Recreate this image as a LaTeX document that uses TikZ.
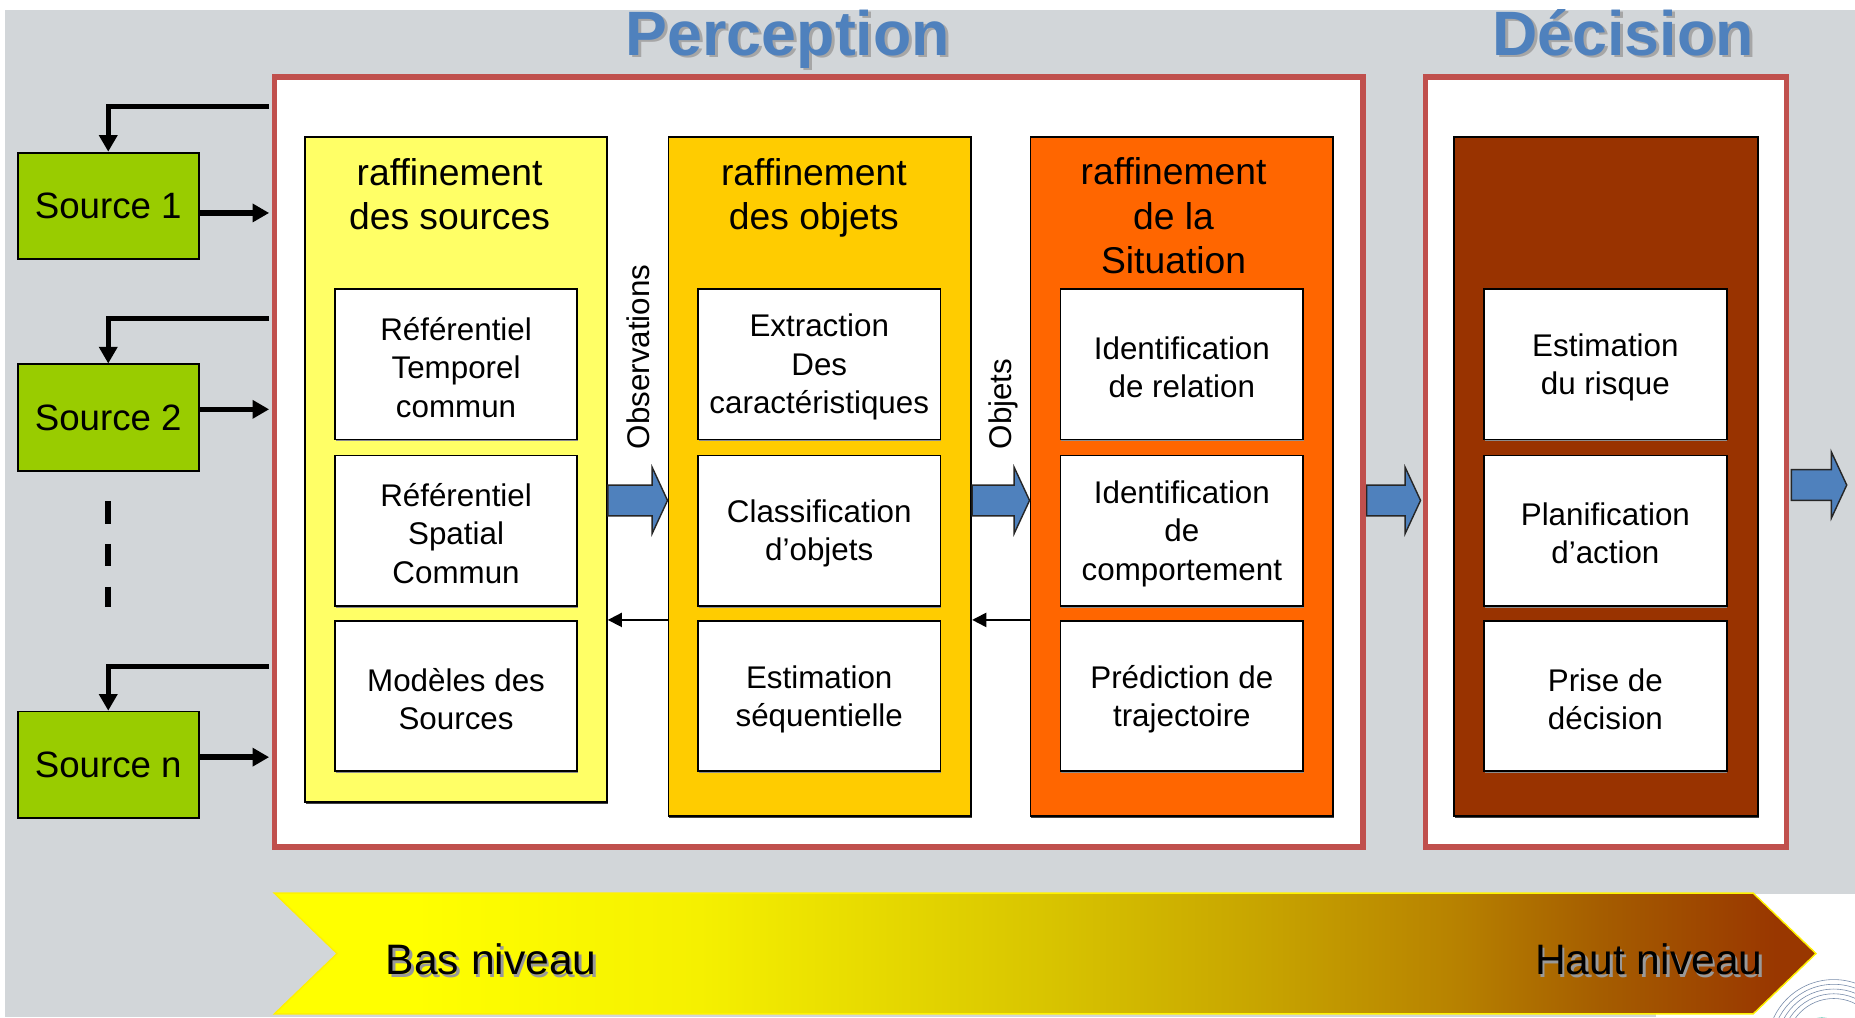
\documentclass[tikz,border=0pt]{standalone}
\usepackage{fontspec}
\setmainfont{Liberation Sans}
\usetikzlibrary{arrows.meta,calc,shadows}

\definecolor{bggray}{RGB}{210,214,217}
\definecolor{framered}{RGB}{192,80,77}
\definecolor{srcgreen}{RGB}{153,204,0}
\definecolor{colA}{RGB}{255,255,102}
\definecolor{colB}{RGB}{255,204,0}
\definecolor{colC}{RGB}{255,102,0}
\definecolor{colD}{RGB}{153,51,0}
\definecolor{arrowblue}{RGB}{79,129,189}
\definecolor{titleblue}{RGB}{79,129,189}
\definecolor{lvA}{RGB}{255,255,0}
\definecolor{lvB}{RGB}{245,240,0}
\definecolor{lvC}{RGB}{216,196,0}
\definecolor{lvD}{RGB}{200,166,0}
\definecolor{lvE}{RGB}{184,131,0}
\definecolor{lvF}{RGB}{165,93,0}
\definecolor{lvG}{RGB}{153,55,0}
\definecolor{swirlgray}{RGB}{120,140,170}
\definecolor{swirlteal}{RGB}{80,190,170}

% level band: yellow (low level) to brown (high level)
\pgfdeclarehorizontalshading{levelband}{100bp}{color(0bp)=(lvA); color(29.5bp)=(lvA); color(38.8bp)=(lvB); color(50.1bp)=(lvC); color(56.7bp)=(lvD); color(63.1bp)=(lvE); color(68bp)=(lvF); color(73.7bp)=(lvG); color(100bp)=(lvG)}

\tikzset{
  srcbox/.style={draw=black, line width=1.5pt, fill=srcgreen, minimum width=153pt,
    minimum height=90pt, inner sep=0pt, font=\fontsize{31}{36}\selectfont},
  colbox/.style={draw=black, line width=1.5pt, inner sep=0pt,
    drop shadow={opacity=1, fill=black!75, shadow xshift=0.6pt, shadow yshift=-1.8pt}},
  itembox/.style={draw=black, line width=1.5pt, fill=white, minimum width=205pt,
    minimum height=127pt, inner sep=0pt,
    drop shadow={opacity=1, fill=black!45, shadow xshift=0.6pt, shadow yshift=-1.5pt}},
  itemtext/.style={inner sep=0pt, align=center, font=\fontsize{26.5}{32.5}\selectfont},
  stageframe/.style={draw=framered, line width=4.5pt, fill=white, inner sep=0pt},
  coltitle/.style={align=center, font=\fontsize{31.5}{37.5}\selectfont, inner sep=0pt},
  fatarrow/.style={fill=arrowblue, draw=black!85, line width=1.2pt, line join=miter},
  feedback/.style={line width=4.5pt, -{Triangle[length=14pt,width=15pt]}},
  backarrow/.style={line width=1.5pt, -{Triangle[length=12pt,width=12pt]}},
  rotlabel/.style={rotate=90, anchor=base west, inner sep=0pt,
    font=\fontsize{26.5}{32}\selectfont},
  stagetitle/.style={anchor=base, inner sep=0pt, font=\fontsize{53}{60}\selectfont\bfseries},
  bandtext/.style={inner sep=0pt, font=\fontsize{36}{40}\selectfont},
}

% block arrow between two points of equal height
\newcommand\fatarrow[2]{%
  \path[fatarrow] let \p1=#1, \p2=#2 in
    (\x1,\y1+13pt) -- (\x2-13pt,\y1+13pt) -- (\x2-13pt,\y1+28pt) -- (\x2,\y1)
    -- (\x2-13pt,\y1-28pt) -- (\x2-13pt,\y1-13pt) -- (\x1,\y1-13pt) -- cycle;}

% task box with its text set slightly below the box centre
\newcommand\taskbox[3]{%
  \node[itembox] (#1) at (#2) {};
  \node[itemtext] (#1-text) at ([yshift=-2.5pt]#1.center) {#3};}

\begin{document}
\begin{tikzpicture}[x=1pt, y=-1pt]
\useasboundingbox (0,0) rectangle (1568,860);

% background
\fill[white] (0,0) rectangle (1568,860);
\fill[bggray] (4.5,8.5) rectangle (1568,860);
\fill[white] (1400,756) rectangle (1568,860);

% corner ornament
\begin{scope}
  \clip (1400,756) rectangle (1568,860);
  \foreach \r in {40,44,...,56}
    \draw[swirlgray, line width=0.5pt] (1550,884) circle[radius=\r pt];
  \draw[swirlteal, line width=2pt] (1540,880) circle[radius=19pt];
\end{scope}

% level band
\path[shade, shading=levelband, draw=yellow, line width=1.2pt]
  (232,755) -- (1482,755) -- (1535,806) -- (1482,857) -- (232,857) -- (285,806) -- cycle;
\node[bandtext, anchor=base west, text=black!40] at (328,826) {Bas niveau};
\node[bandtext, anchor=base west] (lowlbl) at (326,824) {Bas niveau};
\node[bandtext, anchor=base east, text=black!40] at (1492,826) {Haut niveau};
\node[bandtext, anchor=base east] (highlbl) at (1490,824) {Haut niveau};

% stage titles
\node[stagetitle, text=black!35] at (668.5,49) {Perception};
\node[stagetitle, text=titleblue] (perctitle) at (666,46.5) {Perception};
\node[stagetitle, text=black!35] at (1374.5,49) {Décision};
\node[stagetitle, text=titleblue] (dectitle) at (1372,46.5) {Décision};

% stage frames
\node[stageframe, minimum width=920pt, minimum height=651pt] (percframe) at (692,390.5) {};
\node[stageframe, minimum width=305pt, minimum height=651pt] (decframe) at (1357.5,390.5) {};

% refinement columns
\node[colbox, fill=colA, minimum width=255pt, minimum height=562pt] (c1) at (385.5,397) {};
\node[colbox, fill=colB, minimum width=256pt, minimum height=574pt] (c2) at (693,403) {};
\node[colbox, fill=colC, minimum width=256pt, minimum height=574pt] (c3) at (999,403) {};
\node[colbox, fill=colD, minimum width=257pt, minimum height=574pt] (c4) at (1357.5,403) {};

\node[coltitle] (t1) at (380,164) {raffinement\\des sources};
\node[coltitle] (t2) at (688,167.5) {raffinement\\des objets};
\node[coltitle] (t3) at (992,182.5) {raffinement\\de la\\Situation};

% tasks
\taskbox{a1}{385.5,308}{Référentiel\\Temporel\\commun}
\taskbox{a2}{385.5,448.5}{Référentiel\\Spatial\\Commun}
\taskbox{a3}{385.5,588.5}{Modèles des\\Sources}
\taskbox{b1}{692.5,308}{Extraction\\Des\\caractéristiques}
\taskbox{b2}{692.5,448.5}{Classification\\d’objets}
\taskbox{b3}{692.5,588.5}{Estimation\\séquentielle}
\taskbox{d1}{999,308}{Identification\\de relation}
\taskbox{d2}{999,448.5}{Identification\\de\\comportement}
\taskbox{d3}{999,588.5}{Prédiction de\\trajectoire}
\taskbox{e1}{1357,308}{Estimation\\du risque}
\taskbox{e2}{1357,448.5}{Planification\\d’action}
\taskbox{e3}{1357,588.5}{Prise de\\décision}

% flow labels
\node[rotlabel] (obslbl) at (549,380) {Observations};
\node[rotlabel] (objlbl) at (855,380) {Objets};

% forward flow
\coordinate (ya) at (0,423);
\coordinate (yb) at (0,410);
\coordinate (yc) at (0,524);
\coordinate (outtip) at (1561,410);
\fatarrow{(c1.east |- ya)}{(c2.west |- ya)}
\fatarrow{(c2.east |- ya)}{(c3.west |- ya)}
\fatarrow{([xshift=1pt]percframe.east |- ya)}{([xshift=-2pt]decframe.west |- ya)}
\fatarrow{([xshift=2pt]decframe.east |- yb)}{(outtip)}

% backward flow
\draw[backarrow] (c2.west |- yc) -- (c1.east |- yc);
\draw[backarrow] (c3.west |- yc) -- (c2.east |- yc);

% sources
\node[srcbox] (src1) at (91.5,174) {Source 1};
\node[srcbox] (src2) at (91.5,353) {Source 2};
\node[srcbox] (srcn) at (91.5,646.5) {Source n};

\coordinate (f1) at (0,90);
\coordinate (f2) at (0,269.5);
\coordinate (fn) at (0,563.5);
\coordinate (s1) at (0,180);
\coordinate (s2) at (0,346);
\coordinate (sn) at (0,640);

\draw[feedback] ([xshift=-2.25pt]percframe.west |- f1) -| (src1.north);
\draw[feedback] ([xshift=-2.25pt]percframe.west |- f2) -| (src2.north);
\draw[feedback] ([xshift=-2.25pt]percframe.west |- fn) -| (srcn.north);
\draw[feedback] (src1.east |- s1) -- ([xshift=-2.25pt]percframe.west |- s1);
\draw[feedback] (src2.east |- s2) -- ([xshift=-2.25pt]percframe.west |- s2);
\draw[feedback] (srcn.east |- sn) -- ([xshift=-2.25pt]percframe.west |- sn);

% further sources
\draw[line width=5pt, dash pattern=on 19pt off 17pt] ([yshift=-25pt]src2.south) -- ([yshift=88pt]srcn.north);
\end{tikzpicture}
\end{document}
